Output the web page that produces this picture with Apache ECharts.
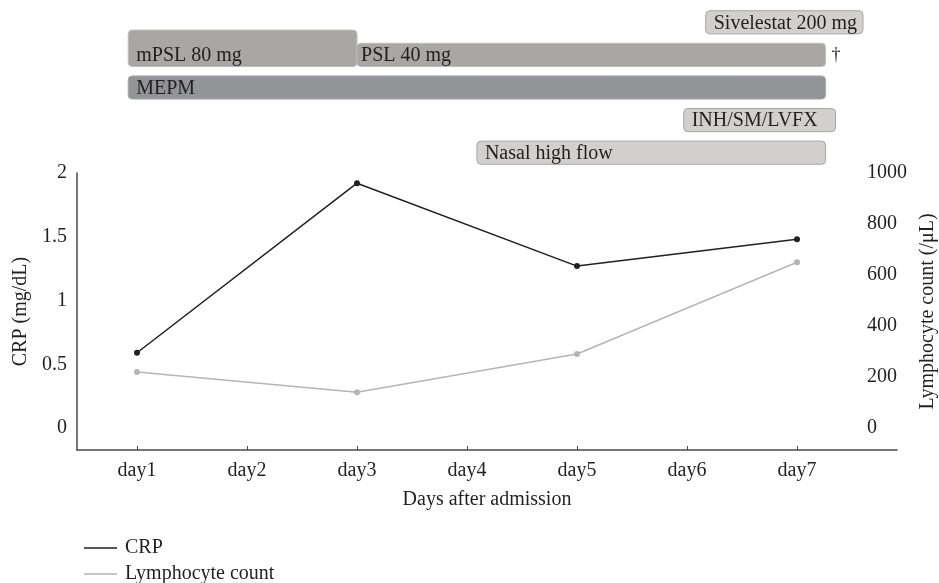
<!DOCTYPE html>
<html>
<head>
<meta charset="utf-8">
<script src="https://cdn.jsdelivr.net/npm/echarts@6/dist/echarts.min.js"></script>
<style>
html,body{margin:0;padding:0;background:#fff;}
#chart{width:939px;height:583px;}
</style>
</head>
<body>
<div id="chart"></div>
<script>
// ---- data ----
const dayLabels = ['day1','day2','day3','day4','day5','day6','day7'];
const dayValues = [1,2,3,4,5,6,7];
const sampleDays = [1,3,5,7];
const crp = [0.59, 1.92, 1.27, 1.48];
const lymph = [220, 140, 290, 650];
const crpTicks = [0, 0.5, 1, 1.5, 2];
const lymphTicks = [0, 200, 400, 600, 800, 1000];

// treatment timeline (days after admission)
const treatRows = ['Sivelestat', 'Steroid', 'MEPM', 'Antituberculous', 'Oxygen'];
const treatNames = ['Sivelestat 200 mg', 'mPSL 80 mg', 'PSL 40 mg', 'MEPM', 'INH/SM/LVFX', 'Nasal high flow'];
const treatRow = ['Sivelestat', 'Steroid', 'Steroid', 'MEPM', 'Antituberculous', 'Oxygen'];
const treatStart = [6.17, 0.92, 3.0, 0.92, 5.97, 4.09];
const treatEnd = [7.60, 3.0, 7.26, 7.26, 7.35, 7.26];
const treatNote = ['', '', '†', '', '', ''];

// ---- styles ----
const FONT = 'Liberation Serif';
const TXT = '#231f20';
const boxStyle = {
  'Sivelestat 200 mg': {fill: '#d1d0cf', stroke: '#a6a6a6', tall: false},
  'mPSL 80 mg': {fill: '#a8a7a5', stroke: '#bdbcba', tall: true},
  'PSL 40 mg': {fill: '#a8a7a5', stroke: '#bdbcba', tall: false},
  'MEPM': {fill: '#939498', stroke: '#a9aaad', tall: false},
  'INH/SM/LVFX': {fill: '#d1d0cf', stroke: '#a6a6a6', tall: false},
  'Nasal high flow': {fill: '#d1d0cf', stroke: '#a6a6a6', tall: false}
};

const XMIN = 0.4545, XMAX = 7.909;

const treatData = treatNames.map((n, i) => [treatStart[i], treatEnd[i], treatRow[i], i]);

function renderTreat(params, api) {
  const idx = api.value(3);
  const name = treatNames[idx];
  const st = boxStyle[name];
  const p0 = api.coord([api.value(0), api.value(2)]);
  const p1 = api.coord([api.value(1), api.value(2)]);
  const band = api.size([0, 1])[1];
  const h = band * 0.71;
  let top = p0[1] - h / 2;
  let height = h;
  if (st.tall) { top = p0[1] - band * 0.76; height = band * 0.76 + h / 2; }
  const children = [{
    type: 'rect',
    shape: {x: p0[0], y: top, width: p1[0] - p0[0], height: height, r: 4},
    style: {fill: st.fill, stroke: st.stroke, lineWidth: 1}
  }, {
    type: 'text',
    style: {
      x: p0[0] + (name === 'PSL 40 mg' ? 4 : 8), y: p0[1] + 1,
      text: name, fill: TXT, font: '20px "' + FONT + '"',
      verticalAlign: 'middle', align: 'left'
    }
  }];
  if (treatNote[idx]) {
    children.push({
      type: 'text',
      style: {x: p1[0] + 6, y: p0[1], text: treatNote[idx], fill: TXT,
        font: '18px "' + FONT + '"', verticalAlign: 'middle', align: 'left'}
    });
  }
  return {type: 'group', children: children};
}

const chart = echarts.init(document.getElementById('chart'));
chart.setOption({
  animation: false,
  textStyle: {fontFamily: FONT, color: TXT},
  grid: [
    {left: 77, right: 42, top: 173, bottom: 133, outerBoundsMode: 'none', containLabel: false},
    {left: 77, right: 42, top: 6, height: 163, outerBoundsMode: 'none', containLabel: false}
  ],
  legend: {
    orient: 'vertical', left: 79, top: 533, height: 60,
    icon: 'rect', itemWidth: 33, itemHeight: 1.3, itemGap: 6,
    textStyle: {fontFamily: FONT, fontSize: 20, color: TXT, padding: [0, 0, 0, 3]},
    data: ['CRP', 'Lymphocyte count']
  },
  xAxis: [{
    type: 'value', gridIndex: 0, min: XMIN, max: XMAX,
    name: 'Days after admission', nameLocation: 'middle', nameGap: 40,
    nameTextStyle: {fontFamily: FONT, fontSize: 20, color: TXT},
    axisLine: {show: true, onZero: false, lineStyle: {color: '#4a4a4a', width: 1.5}},
    axisTick: {show: true, inside: true, length: 4, customValues: dayValues, lineStyle: {color: '#4a4a4a', width: 1}},
    axisLabel: {customValues: dayValues, margin: 11, fontFamily: FONT, fontSize: 20, color: TXT,
      formatter: v => dayLabels[Math.round(v) - 1]},
    splitLine: {show: false}
  }, {
    type: 'value', gridIndex: 1, min: XMIN, max: XMAX, show: false
  }],
  yAxis: [{
    type: 'value', gridIndex: 0, min: -0.1725, max: 2,
    name: 'CRP (mg/dL)', nameLocation: 'middle', nameGap: 41, nameRotate: 90,
    nameTextStyle: {fontFamily: FONT, fontSize: 20, color: TXT},
    axisLine: {show: true, lineStyle: {color: '#4a4a4a', width: 1.5}},
    axisTick: {show: false},
    axisLabel: {customValues: crpTicks, margin: 10, fontFamily: FONT, fontSize: 20, color: TXT},
    splitLine: {show: false}
  }, {
    type: 'value', gridIndex: 0, position: 'right', offset: -40, min: -86.27, max: 1000,
    name: 'Lymphocyte count (/μL)', nameLocation: 'middle', nameGap: 53, nameRotate: 90,
    nameTextStyle: {fontFamily: FONT, fontSize: 20, color: TXT},
    axisLine: {show: false},
    axisTick: {show: false},
    axisLabel: {customValues: lymphTicks, margin: 10, fontFamily: FONT, fontSize: 20, color: TXT,
      formatter: v => String(v)},
    splitLine: {show: false}
  }, {
    type: 'category', gridIndex: 1, data: treatRows, inverse: true, show: false
  }],
  series: [{
    name: 'CRP', type: 'line', xAxisIndex: 0, yAxisIndex: 0,
    data: sampleDays.map((d, i) => [d, crp[i]]),
    color: '#231f20', lineStyle: {width: 1.5, color: '#231f20'},
    symbol: 'circle', symbolSize: 6, itemStyle: {color: '#231f20'}
  }, {
    name: 'Lymphocyte count', type: 'line', xAxisIndex: 0, yAxisIndex: 1,
    data: sampleDays.map((d, i) => [d, lymph[i]]),
    color: '#b5b5b5', lineStyle: {width: 1.5, color: '#b5b5b5'},
    symbol: 'circle', symbolSize: 6, itemStyle: {color: '#b5b5b5'}
  }, {
    type: 'custom', xAxisIndex: 1, yAxisIndex: 2,
    renderItem: renderTreat, data: treatData,
    encode: {x: [0, 1], y: 2}, clip: false
  }]
});
</script>
</body>
</html>
